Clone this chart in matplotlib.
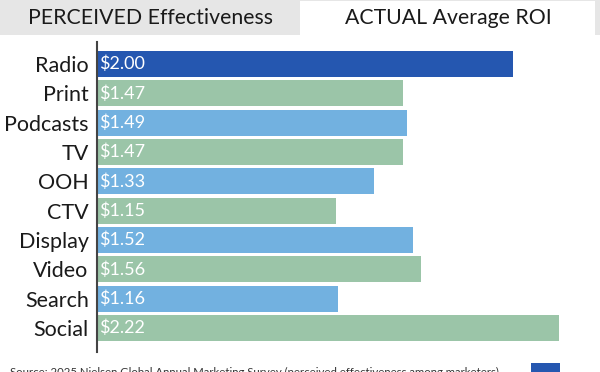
#!/usr/bin/env python3
import matplotlib

matplotlib.use("Agg")

import matplotlib.pyplot as plt
from matplotlib.patches import Rectangle

CHANNELS = ["Radio", "Print", "Podcasts", "TV", "OOH", "CTV", "Display", "Video", "Search", "Social"]
ROI = [2.00, 1.47, 1.49, 1.47, 1.33, 1.15, 1.52, 1.56, 1.16, 2.22]
BAR_COLORS = ["#2557b0", "#9bc5a8", "#72b1e0", "#9bc5a8", "#72b1e0",
              "#9bc5a8", "#72b1e0", "#9bc5a8", "#72b1e0", "#9bc5a8"]
TAB_LEFT = "PERCEIVED Effectiveness"
TAB_RIGHT = "ACTUAL Average ROI"
SOURCE = "Source: 2025 Nielsen Global Annual Marketing Survey (perceived effectiveness among marketers)"

W, H = 600, 372
FONT = "Lato"


def px(x, y):
    # pixel coords (top-left origin) -> figure fraction
    return x / W, 1 - y / H


def main() -> None:
    plt.rcParams["font.family"] = [FONT, "DejaVu Sans"]
    fig = plt.figure(figsize=(W / 100, H / 100), dpi=100)

    # header tabs
    fig.patches.append(Rectangle(px(0, 35), 1, 35 / H, transform=fig.transFigure,
                                 facecolor="#e6e6e6", edgecolor="none", zorder=0))
    fig.patches.append(Rectangle(px(300, 35), 295 / W, 34 / H, transform=fig.transFigure,
                                 facecolor="white", edgecolor="none", zorder=1))
    fig.text(*px(151, 18), TAB_LEFT, ha="center", va="center", fontsize=15.3, color="#1a1a1a")
    fig.text(*px(448, 18), TAB_RIGHT, ha="center", va="center", fontsize=15.3, color="#1a1a1a")

    # bars
    ax = fig.add_axes([97 / W, 1 - 352 / H, 500 / W, 310 / H])
    ypos = list(range(len(CHANNELS)))
    ax.barh(ypos, ROI, height=0.88, color=BAR_COLORS, edgecolor="none", zorder=2)
    ax.set_xlim(0, 500 / 208)
    ax.set_ylim(9 + 24 / 29.33, -22 / 29.33)
    for s in ["top", "right", "bottom"]:
        ax.spines[s].set_visible(False)
    ax.spines["left"].set_color("#444444")
    ax.spines["left"].set_linewidth(1.5)
    ax.set_xticks([])
    ax.set_yticks(ypos)
    ax.set_yticklabels(CHANNELS, fontsize=15.5, color="#1a1a1a")
    ax.tick_params(axis="y", length=0, pad=6)

    for y, v in zip(ypos, ROI):
        ax.text(0.01, y, f"${v:.2f}", ha="left", va="center", fontsize=13, color="white", zorder=3)

    # footer, mostly clipped by canvas edge (as in the reference)
    fig.text(*px(10, 367), SOURCE, ha="left", va="top", fontsize=8.2, color="#333333")
    fig.patches.append(Rectangle(px(531, 380), 29 / W, 17 / H, transform=fig.transFigure,
                                 facecolor="#2557b0", edgecolor="none"))

    fig.savefig("out.png", dpi=100)
    plt.close(fig)


if __name__ == "__main__":
    main()
